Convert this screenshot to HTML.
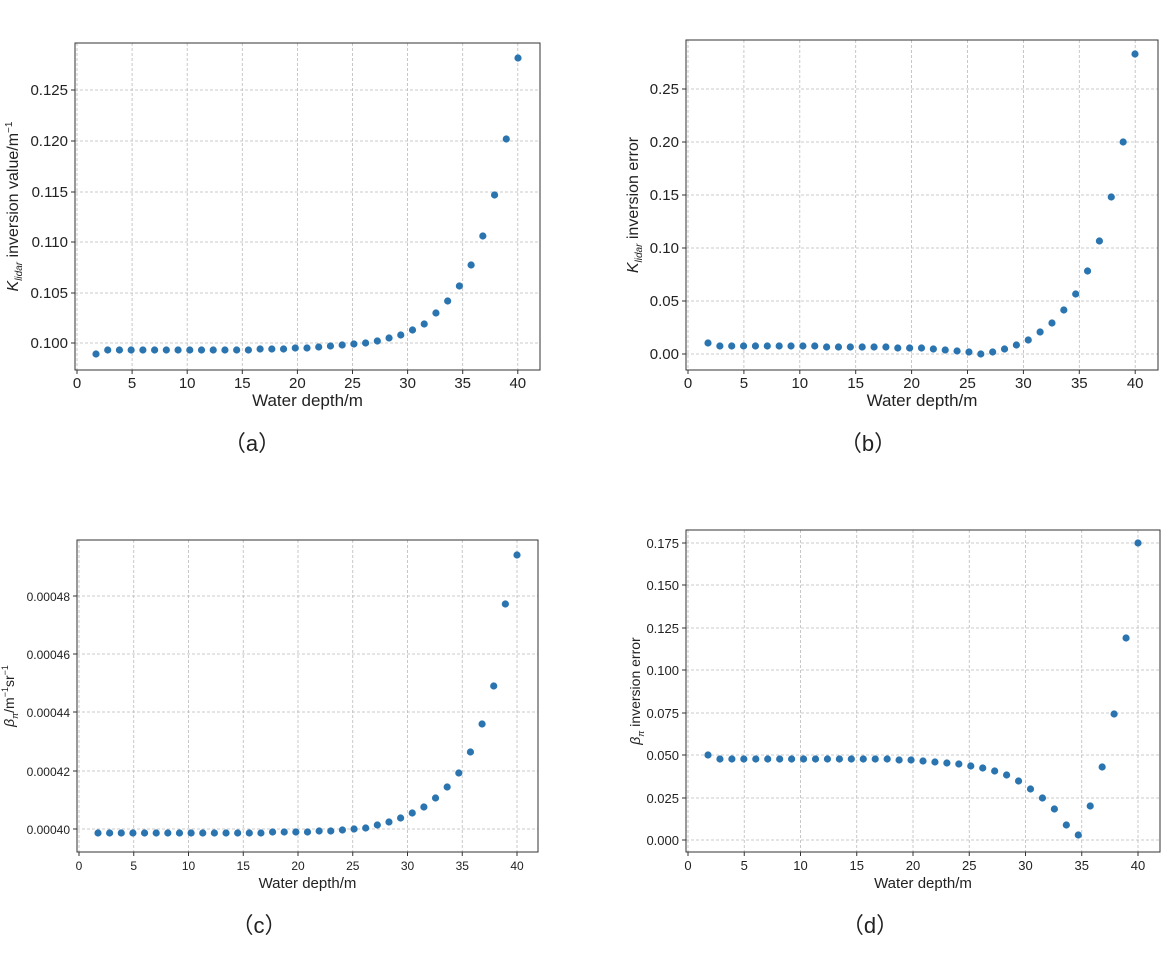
<!DOCTYPE html>
<html><head><meta charset="utf-8"><style>
html,body{margin:0;padding:0;background:#fff;}
svg text{font-family:"Liberation Sans","DejaVu Sans",sans-serif;fill:#222;}
</style></head><body>
<svg id="s" width="1168" height="971" xmlns="http://www.w3.org/2000/svg"></svg>
<script>
const S=document.getElementById('s');const NS='http://www.w3.org/2000/svg';
function el(t,a,txt){const e=document.createElementNS(NS,t);for(const k in a)e.setAttribute(k,a[k]);if(txt!==undefined)e.textContent=txt;S.appendChild(e);return e;}
function panel(p){
 const {x0,x1,y0,y1,xz,xs,yt,pts,fs,cap,capx,capy,xl,yl}=p;
 const tfs=p.tfs||fs;
 for(let i=0;i<=8;i++){const x=xz+i*xs;el('line',{x1:x,x2:x,y1:y0,y2:y1,stroke:'#bbb','stroke-dasharray':'3,2','stroke-width':0.8});
  el('line',{x1:x,x2:x,y1:y1,y2:y1+4,stroke:'#333'});
  el('text',{x:x,y:y1+18,'font-size':tfs,'text-anchor':'middle'},String(i*5));}
 yt.forEach(([v,y])=>{el('line',{x1:x0,x2:x1,y1:y,y2:y,stroke:'#bbb','stroke-dasharray':'3,2','stroke-width':0.8});
  el('line',{x1:x0-4,x2:x0,y1:y,y2:y,stroke:'#333'});
  el('text',{x:x0-7,y:y+5,'font-size':tfs,'text-anchor':'end'},v);});
 el('rect',{x:x0,y:y0,width:x1-x0,height:y1-y0,fill:'none',stroke:'#333','stroke-width':1});
 const n=pts.length,st=(p.px1-p.px0)/(n-1);
 pts.forEach((y,i)=>el('circle',{cx:p.px0+i*st,cy:y,r:3.6,fill:'#2a74b0'}));
 el('text',{x:(x0+x1)/2,y:y1+36,'font-size':fs+2,'text-anchor':'middle'},xl);
 const t=el('text',{x:0,y:0,'font-size':fs+1,'text-anchor':'middle',transform:`translate(${p.ylx},${(y0+y1)/2}) rotate(-90)`});
 t.innerHTML=yl;
 el('text',{x:capx,y:capy,'font-size':22,'text-anchor':'middle','font-family':'"Liberation Serif","Noto Serif CJK SC",serif'},cap);
}
panel({x0:75,x1:540,y0:43,y1:370,xz:77,xs:55.1,px0:96,px1:518,fs:15,ylx:18,
 yt:[['0.100',343],['0.105',293],['0.110',242],['0.115',192],['0.120',141],['0.125',90]],
 pts:[354,350,350,350,350,350,350,350,350,350,350,350,350,350,349,349,349,348,348,347,346,345,344,343,341,338,335,330,324,313,301,286,265,236,195,139,58],
 xl:'Water depth/m',yl:'<tspan font-style="italic">K</tspan><tspan font-style="italic" font-size="10" dy="4">lidar</tspan><tspan dy="-4"> inversion value/m</tspan><tspan font-size="10" dy="-6">−1</tspan>',
 cap:'（a）',capx:252,capy:451});
panel({x0:686,x1:1158,y0:40,y1:370,xz:688,xs:55.9,px0:708,px1:1135,fs:15,ylx:638,
 yt:[['0.00',354],['0.05',301],['0.10',248],['0.15',195],['0.20',142],['0.25',89]],
 pts:[343,346,346,346,346,346,346,346,346,346,347,347,347,347,347,347,348,348,348,349,350,351,352,354,352,349,345,340,332,323,310,294,271,241,197,142,54],
 xl:'Water depth/m',yl:'<tspan font-style="italic">K</tspan><tspan font-style="italic" font-size="10" dy="4">lidar</tspan><tspan dy="-4"> inversion error</tspan>',
 cap:'（b）',capx:868,capy:451});
panel({x0:77,x1:538,y0:540,y1:852,xz:79,xs:54.75,px0:98,px1:517,fs:13,tfs:12,ylx:14,
 yt:[['0.00040',829],['0.00042',771],['0.00044',712],['0.00046',654],['0.00048',596]],
 pts:[837,833,833,833,833,833,833,833,833,833,833,833,833,833,833,833,832,832,832,832,831,831,830,829,828,825,822,818,813,807,798,787,773,752,724,686,604,555].slice(1),
 xl:'Water depth/m',yl:'<tspan font-style="italic">β</tspan><tspan font-style="italic" font-size="9" dy="4">π</tspan><tspan dy="-4">/m</tspan><tspan font-size="9" dy="-6">−1</tspan><tspan dy="6">sr</tspan><tspan font-size="9" dy="-6">−1</tspan>',
 cap:'（c）',capx:259,capy:933});
panel({x0:686,x1:1160,y0:530,y1:852,xz:688,xs:56.25,px0:708,px1:1138,fs:13,ylx:640,
 yt:[['0.000',840],['0.025',798],['0.050',755],['0.075',713],['0.100',670],['0.125',628],['0.150',585],['0.175',543]],
 pts:[755,759,759,759,759,759,759,759,759,759,759,759,759,759,759,759,760,760,761,762,763,764,766,768,771,775,781,789,798,809,825,835,806,767,714,638,543],
 xl:'Water depth/m',yl:'<tspan font-style="italic">β</tspan><tspan font-style="italic" font-size="9" dy="4">π</tspan><tspan dy="-4"> inversion error</tspan>',
 cap:'（d）',capx:870,capy:933});
</script>
</body></html>
